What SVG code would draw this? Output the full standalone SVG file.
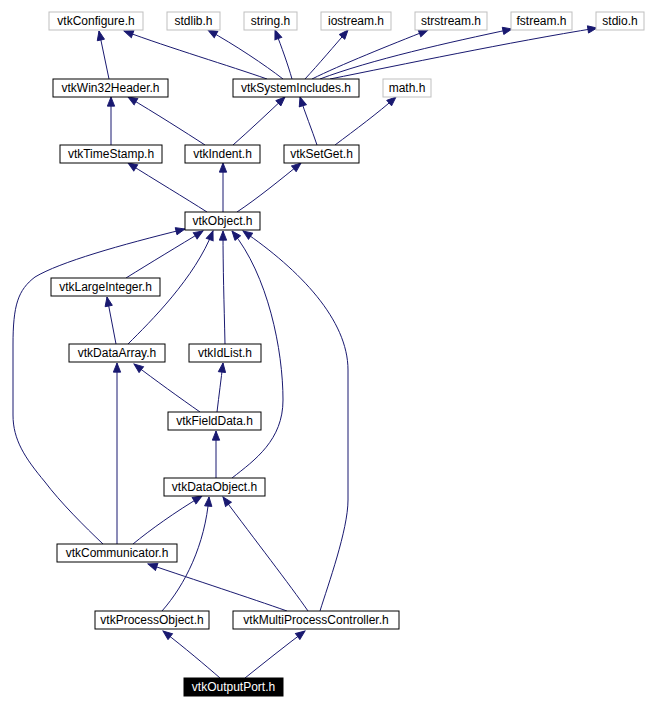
<svg xmlns="http://www.w3.org/2000/svg" width="646" height="709" viewBox="0 0 646 709">
<style>
.n rect{fill:#fff;stroke:#000;stroke-width:1}
.x rect{fill:#fff;stroke:#bfbfbf;stroke-width:1}
.o rect{fill:#000;stroke:#000;stroke-width:1}
text{font-family:"Liberation Sans",Arial,sans-serif;font-size:12px;text-anchor:middle;fill:#000}
.o text{fill:#fff}
.e path{fill:none;stroke:#191970;stroke-width:1;marker-end:url(#ah)}
</style>
<defs>
<marker id="ah" markerUnits="userSpaceOnUse" markerWidth="11" markerHeight="9" refX="10" refY="4" orient="auto" viewBox="-1 -0.5 12 9">
<path d="M0,0 L10,4 L0,8 z" fill="#191970" stroke="#191970" stroke-width="1"/>
</marker>
</defs>
<rect width="646" height="709" fill="#fff"/>
<g class="e" id="edges">
<path d="M109,79 L99,31"/>
<path d="M267,79 C230,66 170,48 124,31"/>
<path d="M283,79 C265,65 235,45 208,30"/>
<path d="M292,79 C288,65 282,48 275,30"/>
<path d="M305,79 C318,65 335,45 348,30"/>
<path d="M312,79 C340,65 390,45 428,30"/>
<path d="M320,79 C370,60 450,42 512,29"/>
<path d="M330,79 C400,65 510,42 597,28"/>
<path d="M111,145 L111,97"/>
<path d="M205,145 C185,132 155,113 128,97"/>
<path d="M233,145 C250,130 268,113 285,97"/>
<path d="M317,145 C312,130 305,113 300,97"/>
<path d="M335,145 C355,130 378,113 396,97"/>
<path d="M207,212 C185,198 155,180 128,163"/>
<path d="M223,212 L223,163"/>
<path d="M237,212 C258,198 280,180 301,163"/>
<path d="M126,278 C150,263 180,245 203,231"/>
<path d="M128,344 C150,322 195,278 213,231"/>
<path d="M225,344 C224,300 223,270 223,231"/>
<path d="M232,478 C255,460 283,440 283,400 C283,350 268,275 232,231"/>
<path d="M320,611 C328,585 348,530 348,500 L348,370 C348,320 300,270 243,231"/>
<path d="M103,544 C85,527 60,502 45,482 C25,458 13,440 13,415 L13,345 C13,305 18,290 35,277 C60,262 120,245 185,229"/>
<path d="M116,344 L107,297"/>
<path d="M200,412 C180,398 155,380 134,364"/>
<path d="M217,412 C219,395 221,380 223,363"/>
<path d="M216,478 L216,431"/>
<path d="M117,544 L117,363"/>
<path d="M133,544 C150,530 175,512 202,496"/>
<path d="M162,611 C185,585 205,545 209,497"/>
<path d="M308,611 C290,585 255,540 223,497"/>
<path d="M287,611 C250,598 195,580 148,564"/>
<path d="M220,678 C205,665 185,648 163,631"/>
<path d="M245,678 C265,662 285,646 305,631"/>
</g>
<g id="vtkConfigure" class="x"><rect x="49" y="12" width="94" height="18"/><text x="96" y="25">vtkConfigure.h</text></g>
<g id="stdlib" class="x"><rect x="167" y="12" width="53" height="18"/><text x="193.5" y="25">stdlib.h</text></g>
<g id="string" class="x"><rect x="244" y="12" width="53" height="18"/><text x="270.5" y="25">string.h</text></g>
<g id="iostream" class="x"><rect x="321" y="12" width="70" height="18"/><text x="356" y="25">iostream.h</text></g>
<g id="strstream" class="x"><rect x="415" y="12" width="72" height="18"/><text x="451" y="25">strstream.h</text></g>
<g id="fstream" class="x"><rect x="511" y="12" width="61" height="18"/><text x="541.5" y="25">fstream.h</text></g>
<g id="stdio" class="x"><rect x="596" y="12" width="48" height="18"/><text x="620" y="25">stdio.h</text></g>
<g id="vtkWin32Header" class="n"><rect x="53" y="79" width="115" height="18"/><text x="110.5" y="92">vtkWin32Header.h</text></g>
<g id="vtkSystemIncludes" class="n"><rect x="233" y="79" width="126" height="18"/><text x="296" y="92">vtkSystemIncludes.h</text></g>
<g id="math" class="x"><rect x="383" y="79" width="48" height="18"/><text x="407" y="92">math.h</text></g>
<g id="vtkTimeStamp" class="n"><rect x="60" y="145" width="102" height="18"/><text x="111" y="158">vtkTimeStamp.h</text></g>
<g id="vtkIndent" class="n"><rect x="185" y="145" width="75" height="18"/><text x="222.5" y="158">vtkIndent.h</text></g>
<g id="vtkSetGet" class="n"><rect x="284" y="145" width="75" height="18"/><text x="321.5" y="158">vtkSetGet.h</text></g>
<g id="vtkObject" class="n"><rect x="185" y="212" width="75" height="18"/><text x="222.5" y="225">vtkObject.h</text></g>
<g id="vtkLargeInteger" class="n"><rect x="51" y="278" width="109" height="18"/><text x="105.5" y="291">vtkLargeInteger.h</text></g>
<g id="vtkDataArray" class="n"><rect x="69" y="344" width="96" height="18"/><text x="117" y="357">vtkDataArray.h</text></g>
<g id="vtkIdList" class="n"><rect x="189" y="344" width="72" height="18"/><text x="225" y="357">vtkIdList.h</text></g>
<g id="vtkFieldData" class="n"><rect x="168" y="412" width="93" height="18"/><text x="214.5" y="425">vtkFieldData.h</text></g>
<g id="vtkDataObject" class="n"><rect x="164" y="478" width="101" height="18"/><text x="214.5" y="491">vtkDataObject.h</text></g>
<g id="vtkCommunicator" class="n"><rect x="57" y="544" width="120" height="18"/><text x="117" y="557">vtkCommunicator.h</text></g>
<g id="vtkProcessObject" class="n"><rect x="95" y="611" width="114" height="18"/><text x="152" y="624">vtkProcessObject.h</text></g>
<g id="vtkMultiProcessController" class="n"><rect x="233" y="611" width="166" height="18"/><text x="316" y="624">vtkMultiProcessController.h</text></g>
<g id="vtkOutputPort" class="o"><rect x="184" y="678" width="99" height="18"/><text x="233.5" y="691">vtkOutputPort.h</text></g>
</svg>
